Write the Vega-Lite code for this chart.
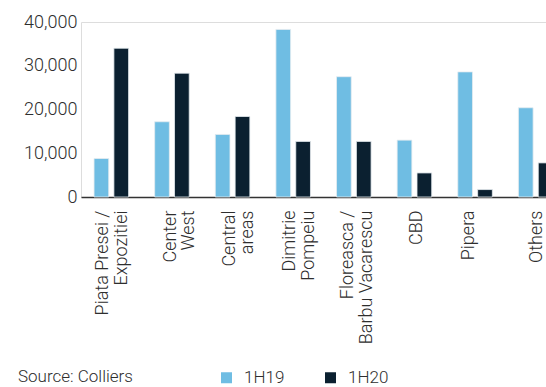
{
  "$schema": "https://vega.github.io/schema/vega-lite/v6.json",
  "autosize": {"type": "none"},
  "width": 465,
  "height": 175,
  "padding": {"left": 81, "top": 22, "right": 0, "bottom": 190},
  "background": "#ffffff",
  "data": {
    "values": [
      {"area": "Piata Presei /\nExpozitiei", "period": "1H19", "sqm": 8800},
      {"area": "Piata Presei /\nExpozitiei", "period": "1H20", "sqm": 34000},
      {"area": "Center\nWest", "period": "1H19", "sqm": 17200},
      {"area": "Center\nWest", "period": "1H20", "sqm": 28300},
      {"area": "Central\nareas", "period": "1H19", "sqm": 14300},
      {"area": "Central\nareas", "period": "1H20", "sqm": 18400},
      {"area": "Dimitrie\nPompeiu", "period": "1H19", "sqm": 38300},
      {"area": "Dimitrie\nPompeiu", "period": "1H20", "sqm": 12700},
      {"area": "Floreasca /\nBarbu Vacarescu", "period": "1H19", "sqm": 27500},
      {"area": "Floreasca /\nBarbu Vacarescu", "period": "1H20", "sqm": 12700},
      {"area": "CBD", "period": "1H19", "sqm": 13000},
      {"area": "CBD", "period": "1H20", "sqm": 5500},
      {"area": "Pipera", "period": "1H19", "sqm": 28600},
      {"area": "Pipera", "period": "1H20", "sqm": 1700},
      {"area": "Others", "period": "1H19", "sqm": 20400},
      {"area": "Others", "period": "1H20", "sqm": 7800}
    ]
  },
  "mark": {"type": "bar", "stroke": "#e6ecf0", "strokeWidth": 0.8},
  "encoding": {
    "x": {
      "field": "area",
      "type": "nominal",
      "sort": null,
      "title": null,
      "scale": {"range": [0, 485], "paddingInner": 0.43, "paddingOuter": 0.215},
      "axis": {
        "labelExpr": "split(datum.label, '\\n')",
        "labelAngle": -90,
        "labelAlign": "right",
        "labelBaseline": "middle",
        "labelPadding": 13,
        "labelOffset": {
          "condition": [
            {"test": "indexof(datum.value, 'Piata') >= 0", "value": -8},
            {"test": "indexof(datum.value, 'Center') >= 0", "value": -1},
            {"test": "indexof(datum.value, 'Floreasca') >= 0", "value": -5.5},
            {"test": "datum.value === 'CBD'", "value": 3},
            {"test": "datum.value === 'Pipera'", "value": -6},
            {"test": "datum.value === 'Others'", "value": 1.4}
          ],
          "value": -3
        },
        "labelLineHeight": 18.5,
        "labelFont": "Roboto",
        "labelFontSize": 18,
        "labelFontWeight": 300,
        "labelColor": "#2e2e2e",
        "ticks": false,
        "domainColor": "#333333",
        "domainWidth": 1.5,
        "labelLimit": 300
      }
    },
    "xOffset": {
      "field": "period",
      "type": "nominal",
      "scale": {"paddingInner": 0.26, "paddingOuter": 0}
    },
    "y": {
      "field": "sqm",
      "type": "quantitative",
      "title": null,
      "scale": {"domain": [0, 40000], "nice": false},
      "axis": {
        "values": [0, 10000, 20000, 30000, 40000],
        "format": ",d",
        "grid": false,
        "domain": false,
        "ticks": false,
        "labelPadding": 4,
        "labelFont": "Roboto",
        "labelFontSize": 18,
        "labelFontWeight": 300,
        "labelColor": "#2e2e2e"
      }
    },
    "color": {
      "field": "period",
      "type": "nominal",
      "scale": {"domain": ["1H19", "1H20"], "range": ["#6fbde3", "#0b2030"]},
      "legend": {
        "title": "Source: Colliers",
        "titleOrient": "left",
        "titleFont": "Roboto",
        "titleFontSize": 17,
        "titleFontWeight": 300,
        "titleColor": "#2e2e2e",
        "titleBaseline": "middle",
        "titlePadding": 85,
        "orient": "none",
        "direction": "horizontal",
        "legendX": -63,
        "legendY": 347,
        "symbolType": "square",
        "symbolSize": 121,
        "symbolStrokeWidth": 0,
        "labelOffset": 9,
        "columnPadding": 37,
        "labelFont": "Roboto",
        "labelFontSize": 17,
        "labelFontWeight": 300,
        "labelColor": "#2e2e2e"
      }
    }
  }
}
